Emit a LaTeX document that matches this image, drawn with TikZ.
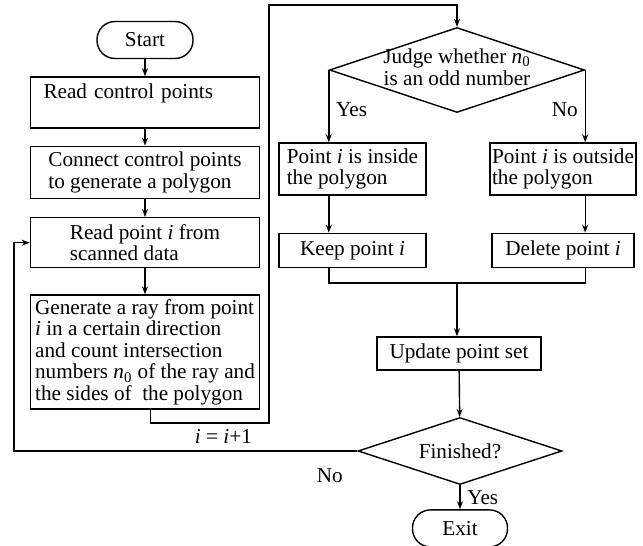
\documentclass[tikz,border=0pt]{standalone}
\usepackage{fontspec}
\setmainfont{Liberation Serif}
\usetikzlibrary{positioning,arrows.meta,shapes.geometric}

\begin{document}
\begin{tikzpicture}[x=0.5pt, y=-0.5pt, >={Stealth[length=4pt,width=3pt]}, line width=0.7pt,
    font=\fontsize{10.6pt}{10.8pt}\selectfont]
\tikzstyle{box}=[
    draw,
    align=left,
    inner sep=2pt,
    minimum width=114.5pt
]
\tikzstyle{term}=[draw, rounded corners=9pt, minimum width=48pt, minimum height=18.5pt, inner sep=2pt]
\tikzstyle{decision}=[draw, diamond, aspect=3, inner sep=0pt]

\useasboundingbox (0,0) rectangle (643,546);

% left column
\node[term] (start) at (145,40) {Start};
\node[box, minimum height=25.5pt, text width=101.5pt, inner xsep=6.5pt, below=8.5pt of start] (readctrl) {Read control points\\\mbox{}};
\node[box, minimum height=26pt, below=8.5pt of readctrl] (connect) {Connect control points\\to generate a polygon};
\node[box, minimum height=25pt, below=9pt of connect] (readpt) {Read point \textit{i} from\\scanned data};
\node[box, minimum height=56pt, below=13pt of readpt] (ray) {Generate a ray from point\\\textit{i} in a certain direction\\and count intersection\\numbers \textit{n}\textsubscript{0} of the ray and\\the sides of~ the polygon};

% right column
\node[decision, minimum width=127.5pt, minimum height=42.5pt] (judge) at (457,70) {};
\node[align=center, inner sep=0pt] (judgetxt) at (457,67) {Judge whether \textit{n}\textsubscript{0}\\is an odd number};
\node[box, minimum width=73.5pt, minimum height=26pt, inner xsep=1pt] (inside) at (352.5,169) {Point \textit{i} is inside\\the polygon};
\node[box, minimum width=71pt, minimum height=26pt, inner xsep=1pt] (outside) at (563,169) {Point \textit{i} is outside\\the polygon};
\node[box, minimum width=73.5pt, minimum height=17pt, below=18.5pt of inside] (keep) {Keep point \textit{i}};
\node[box, minimum width=71pt, minimum height=17pt, below=18.5pt of outside] (delete) {Delete point \textit{i}};
\node[box, minimum width=82pt, minimum height=16.5pt] (update) at (459,353.5) {Update point set};
\node[decision, minimum width=102pt, minimum height=33.5pt] (finished) at (460,451) {Finished?};
\node[term, minimum width=47.5pt, below=12pt of finished] (exit) {Exit};

\coordinate (merge) at (457,283);
\coordinate (gapR) at (269,423);
\coordinate (gapT) at (269,5);
\coordinate (loopL) at (14,451);

\draw[->] (start) -- (readctrl);
\draw[->] (readctrl) -- (connect);
\draw[->] (connect) -- (readpt);
\draw[->] (readpt) -- (ray);
\draw[->] ([xshift=2.75pt]ray.south) |- (gapR) -- (gapT) -| (judge.north);

\draw[->] (judge.west) -- node[right, pos=0.55]{Yes} (judge.west |- inside.north);
\draw[->] (judge.east) -- node[left, pos=0.55]{No} (judge.east |- outside.north);
\draw[->] (judge.west |- inside.south) -- (judge.west |- keep.north);
\draw[->] (judge.east |- outside.south) -- (judge.east |- delete.north);
\draw (judge.west |- keep.south) |- (merge) -| (judge.east |- delete.south);
\draw[->] (merge) -- (merge |- update.north);
\draw[->] (update) -- (finished);
\draw[->] (finished) -- node[right]{Yes} (exit);
\draw[->] (finished.west) -- node[above, pos=0.39]{\textit{i} = \textit{i}+1} node[below=5pt, pos=0.08]{No} (loopL) |- (readpt.west);
\end{tikzpicture}
\end{document}
